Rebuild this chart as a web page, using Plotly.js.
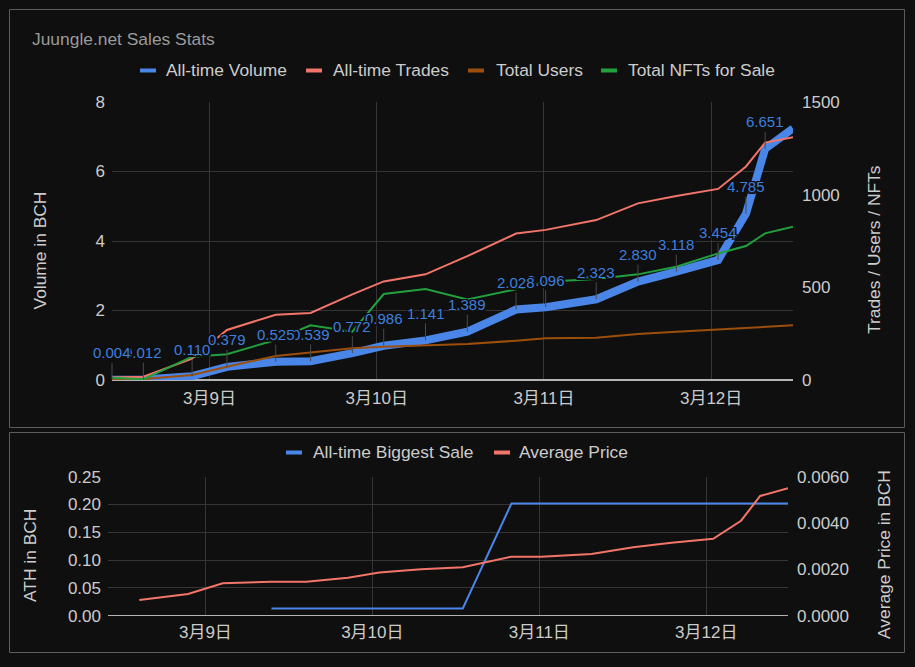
<!DOCTYPE html>
<html><head><meta charset="utf-8">
<script src="https://cdn.plot.ly/plotly-3.0.1.min.js"></script>
<style>html,body{margin:0;padding:0;background:#0f0f0f;}#chart{width:915px;height:667px;}</style>
</head><body><div id="chart"></div>
<script>
// ---- data ----
const dates = ['2021-03-08 10:00','2021-03-08 14:30','2021-03-08 21:30','2021-03-09 02:30','2021-03-09 09:30',
  '2021-03-09 14:30','2021-03-09 20:30','2021-03-10 01:00','2021-03-10 07:00','2021-03-10 13:00',
  '2021-03-10 20:00','2021-03-11 00:15','2021-03-11 07:30','2021-03-11 13:30','2021-03-11 19:00',
  '2021-03-12 01:00','2021-03-12 05:00','2021-03-12 07:45','2021-03-12 11:45'];
const volume = [0.004,0.012,0.110,0.379,0.525,0.539,0.772,0.986,1.141,1.389,2.028,2.096,2.323,2.830,3.118,3.454,4.785,6.651,7.24];
const trades = [14,18,115,270,352,362,462,532,570,668,790,810,863,953,993,1031,1152,1281,1310];
const users  = [3,5,27,72,130,149,171,180,189,194,212,225,228,248,261,273,282,288,295];
const nfts   = [12,4,126,139,216,295,261,464,491,435,490,530,545,570,611,683,723,791,827];
const athSale  = [null,null,null,null,0.013,0.013,0.013,0.013,0.013,0.013,0.202,0.202,0.202,0.202,0.202,0.202,0.202,0.202,0.202];
const avgPrice = [null,0.00068,0.00094,0.0014,0.00147,0.00147,0.00164,0.00186,0.0020,0.00209,0.00255,0.00255,0.00266,0.00295,0.00315,0.00332,0.0041,0.00517,0.0055];
const dayTicks  = ['2021-03-09','2021-03-10','2021-03-11','2021-03-12'];
const dayLabels = ['3月9日','3月10日','3月11日','3月12日'];
const seriesNames = ['All-time Volume','All-time Trades','Total Users','Total NFTs for Sale'];
const bottomNames = ['All-time Biggest Sale','Average Price'];
const chartTitle = 'Juungle.net Sales Stats';

// ---- styling ----
const W = 915, H = 667;
const px = v => v / W, py = v => 1 - v / H;
const FONT = 'Arial, "Liberation Sans", "Noto Sans CJK SC", sans-serif';
const BG = '#0f0f0f', GRID = '#353535', TXT = '#cccccc';
const C_BLUE = '#4a86e8', C_RED = '#f2756a', C_BROWN = '#9c4f0c', C_GREEN = '#23a03e';
const FS = 17.4;
const HALO = `-1.5px -1.5px 0 ${BG}, 1.5px -1.5px 0 ${BG}, -1.5px 1.5px 0 ${BG}, 1.5px 1.5px 0 ${BG}, 0 -1.5px 0 ${BG}, 0 1.5px 0 ${BG}, -1.5px 0 0 ${BG}, 1.5px 0 0 ${BG}`;

const traces = [
  {x: dates, y: volume, type: 'scatter', mode: 'lines', name: seriesNames[0], xaxis: 'x', yaxis: 'y',
   line: {color: C_BLUE, width: 8}, hoverinfo: 'skip'},
  {x: dates, y: trades, type: 'scatter', mode: 'lines', name: seriesNames[1], xaxis: 'x', yaxis: 'y2',
   line: {color: C_RED, width: 2}, hoverinfo: 'skip'},
  {x: dates, y: users, type: 'scatter', mode: 'lines', name: seriesNames[2], xaxis: 'x', yaxis: 'y2',
   line: {color: C_BROWN, width: 2}, hoverinfo: 'skip'},
  {x: dates, y: nfts, type: 'scatter', mode: 'lines', name: seriesNames[3], xaxis: 'x', yaxis: 'y2',
   line: {color: C_GREEN, width: 2}, hoverinfo: 'skip'},
  {x: dates, y: athSale, type: 'scatter', mode: 'lines', name: bottomNames[0], xaxis: 'x2', yaxis: 'y3',
   line: {color: C_BLUE, width: 2}, hoverinfo: 'skip'},
  {x: dates, y: avgPrice, type: 'scatter', mode: 'lines', name: bottomNames[1], xaxis: 'x2', yaxis: 'y4',
   line: {color: C_RED, width: 2}, hoverinfo: 'skip'}
];

const tickFont = {family: FONT, size: 17, color: TXT};
const xCommon = {type: 'date', range: [dates[0], dates[dates.length - 1]], tickmode: 'array',
  tickvals: dayTicks, ticktext: dayLabels, showgrid: true, gridcolor: GRID, gridwidth: 1,
  zeroline: false, showline: false, ticks: '', tickfont: tickFont, ticklabelstandoff: 4, fixedrange: true};

const annotations = [];
const shapes = [];
function label(text, x, y, size, color, extra) {
  annotations.push(Object.assign({text: text, xref: 'paper', yref: 'paper', x: px(x), y: py(y),
    showarrow: false, font: {family: FONT, size: size, color: color}, xanchor: 'left', yanchor: 'middle'}, extra || {}));
}
// panel borders
shapes.push({type: 'rect', xref: 'paper', yref: 'paper', x0: px(9.5), x1: px(904.5), y0: py(9.5), y1: py(427.5),
  line: {color: '#5c5c5c', width: 1}, fillcolor: 'rgba(0,0,0,0)'});
shapes.push({type: 'rect', xref: 'paper', yref: 'paper', x0: px(9.5), x1: px(904.5), y0: py(432.5), y1: py(652.5),
  line: {color: '#5c5c5c', width: 1}, fillcolor: 'rgba(0,0,0,0)'});
// title
label(chartTitle, 30, 39, FS, '#9a9a9a');
// top legend
const legTop = [[140, 164, C_BLUE], [306, 331, C_RED], [468, 494, C_BROWN], [601, 626, C_GREEN]];
legTop.forEach((l, i) => {
  shapes.push({type: 'rect', xref: 'paper', yref: 'paper', x0: px(l[0]), x1: px(l[0] + 16), y0: py(72.5), y1: py(68.5),
    fillcolor: l[2], line: {width: 0}});
  label(seriesNames[i], l[1], 70.5, FS, TXT);
});
// bottom legend
const legBot = [[286, 311, C_BLUE], [494, 517, C_RED]];
legBot.forEach((l, i) => {
  shapes.push({type: 'rect', xref: 'paper', yref: 'paper', x0: px(l[0]), x1: px(l[0] + 16), y0: py(454.5), y1: py(450.5),
    fillcolor: l[2], line: {width: 0}});
  label(bottomNames[i], l[1], 452.5, FS, TXT);
});
// axis titles
label('Volume in BCH', 39.5, 251, FS, TXT, {textangle: -90, xanchor: 'center'});
label('Trades / Users / NFTs', 874, 250, FS, TXT, {textangle: -90, xanchor: 'center'});
label('ATH in BCH', 30, 556, FS, TXT, {textangle: -90, xanchor: 'center'});
label('Average Price in BCH', 884, 555, FS, TXT, {textangle: -90, xanchor: 'center'});
// data labels on volume line (earlier labels drawn on top, with a dark halo like the reference)
for (let i = volume.length - 2; i >= 0; i--) {
  annotations.push({xref: 'x', yref: 'y', x: dates[i], y: volume[i], text: volume[i].toFixed(3),
    showarrow: true, arrowhead: 0, arrowwidth: 1, arrowcolor: '#4a4a4a', ax: 0, ay: -27,
    font: {family: FONT, size: 15, color: '#3f7fdf', shadow: HALO}, xanchor: 'center', yanchor: 'middle'});
}

const layout = {
  width: W, height: H, margin: {l: 0, r: 0, t: 0, b: 0},
  paper_bgcolor: BG, plot_bgcolor: BG, showlegend: false,
  font: {family: FONT, color: TXT},
  xaxis: Object.assign({}, xCommon, {domain: [px(112), px(793)], anchor: 'y', ticklabelstandoff: 6}),
  yaxis: {domain: [py(380), py(102)], anchor: 'x', range: [0, 8], tickmode: 'array', tickvals: [0, 2, 4, 6, 8],
    showgrid: true, gridcolor: GRID, zeroline: true, zerolinecolor: '#b4b4b4', zerolinewidth: 1.5,
    showline: false, ticks: '', tickfont: tickFont, ticklabelstandoff: 6, fixedrange: true},
  yaxis2: {overlaying: 'y', side: 'right', anchor: 'x', range: [0, 1500], tickmode: 'array', tickvals: [0, 500, 1000, 1500],
    showgrid: false, zeroline: false, showline: false, ticks: '', tickfont: tickFont, ticklabelstandoff: 8, fixedrange: true},
  xaxis2: Object.assign({}, xCommon, {domain: [px(108), px(788)], anchor: 'y3'}),
  yaxis3: {domain: [py(615.7), py(476.7)], anchor: 'x2', range: [0, 0.25], tickmode: 'array',
    tickvals: [0, 0.05, 0.10, 0.15, 0.20, 0.25], tickformat: '.2f',
    showgrid: true, gridcolor: GRID, zeroline: true, zerolinecolor: '#b4b4b4', zerolinewidth: 1.5,
    showline: false, ticks: '', tickfont: tickFont, ticklabelstandoff: 6, fixedrange: true},
  yaxis4: {overlaying: 'y3', side: 'right', anchor: 'x2', range: [0, 0.006], tickmode: 'array',
    tickvals: [0, 0.002, 0.004, 0.006], tickformat: '.4f',
    showgrid: false, zeroline: false, showline: false, ticks: '', tickfont: tickFont, ticklabelstandoff: 8, fixedrange: true},
  shapes: shapes,
  annotations: annotations
};

Plotly.newPlot('chart', traces, layout, {displayModeBar: false, staticPlot: true});
</script>
</body></html>
